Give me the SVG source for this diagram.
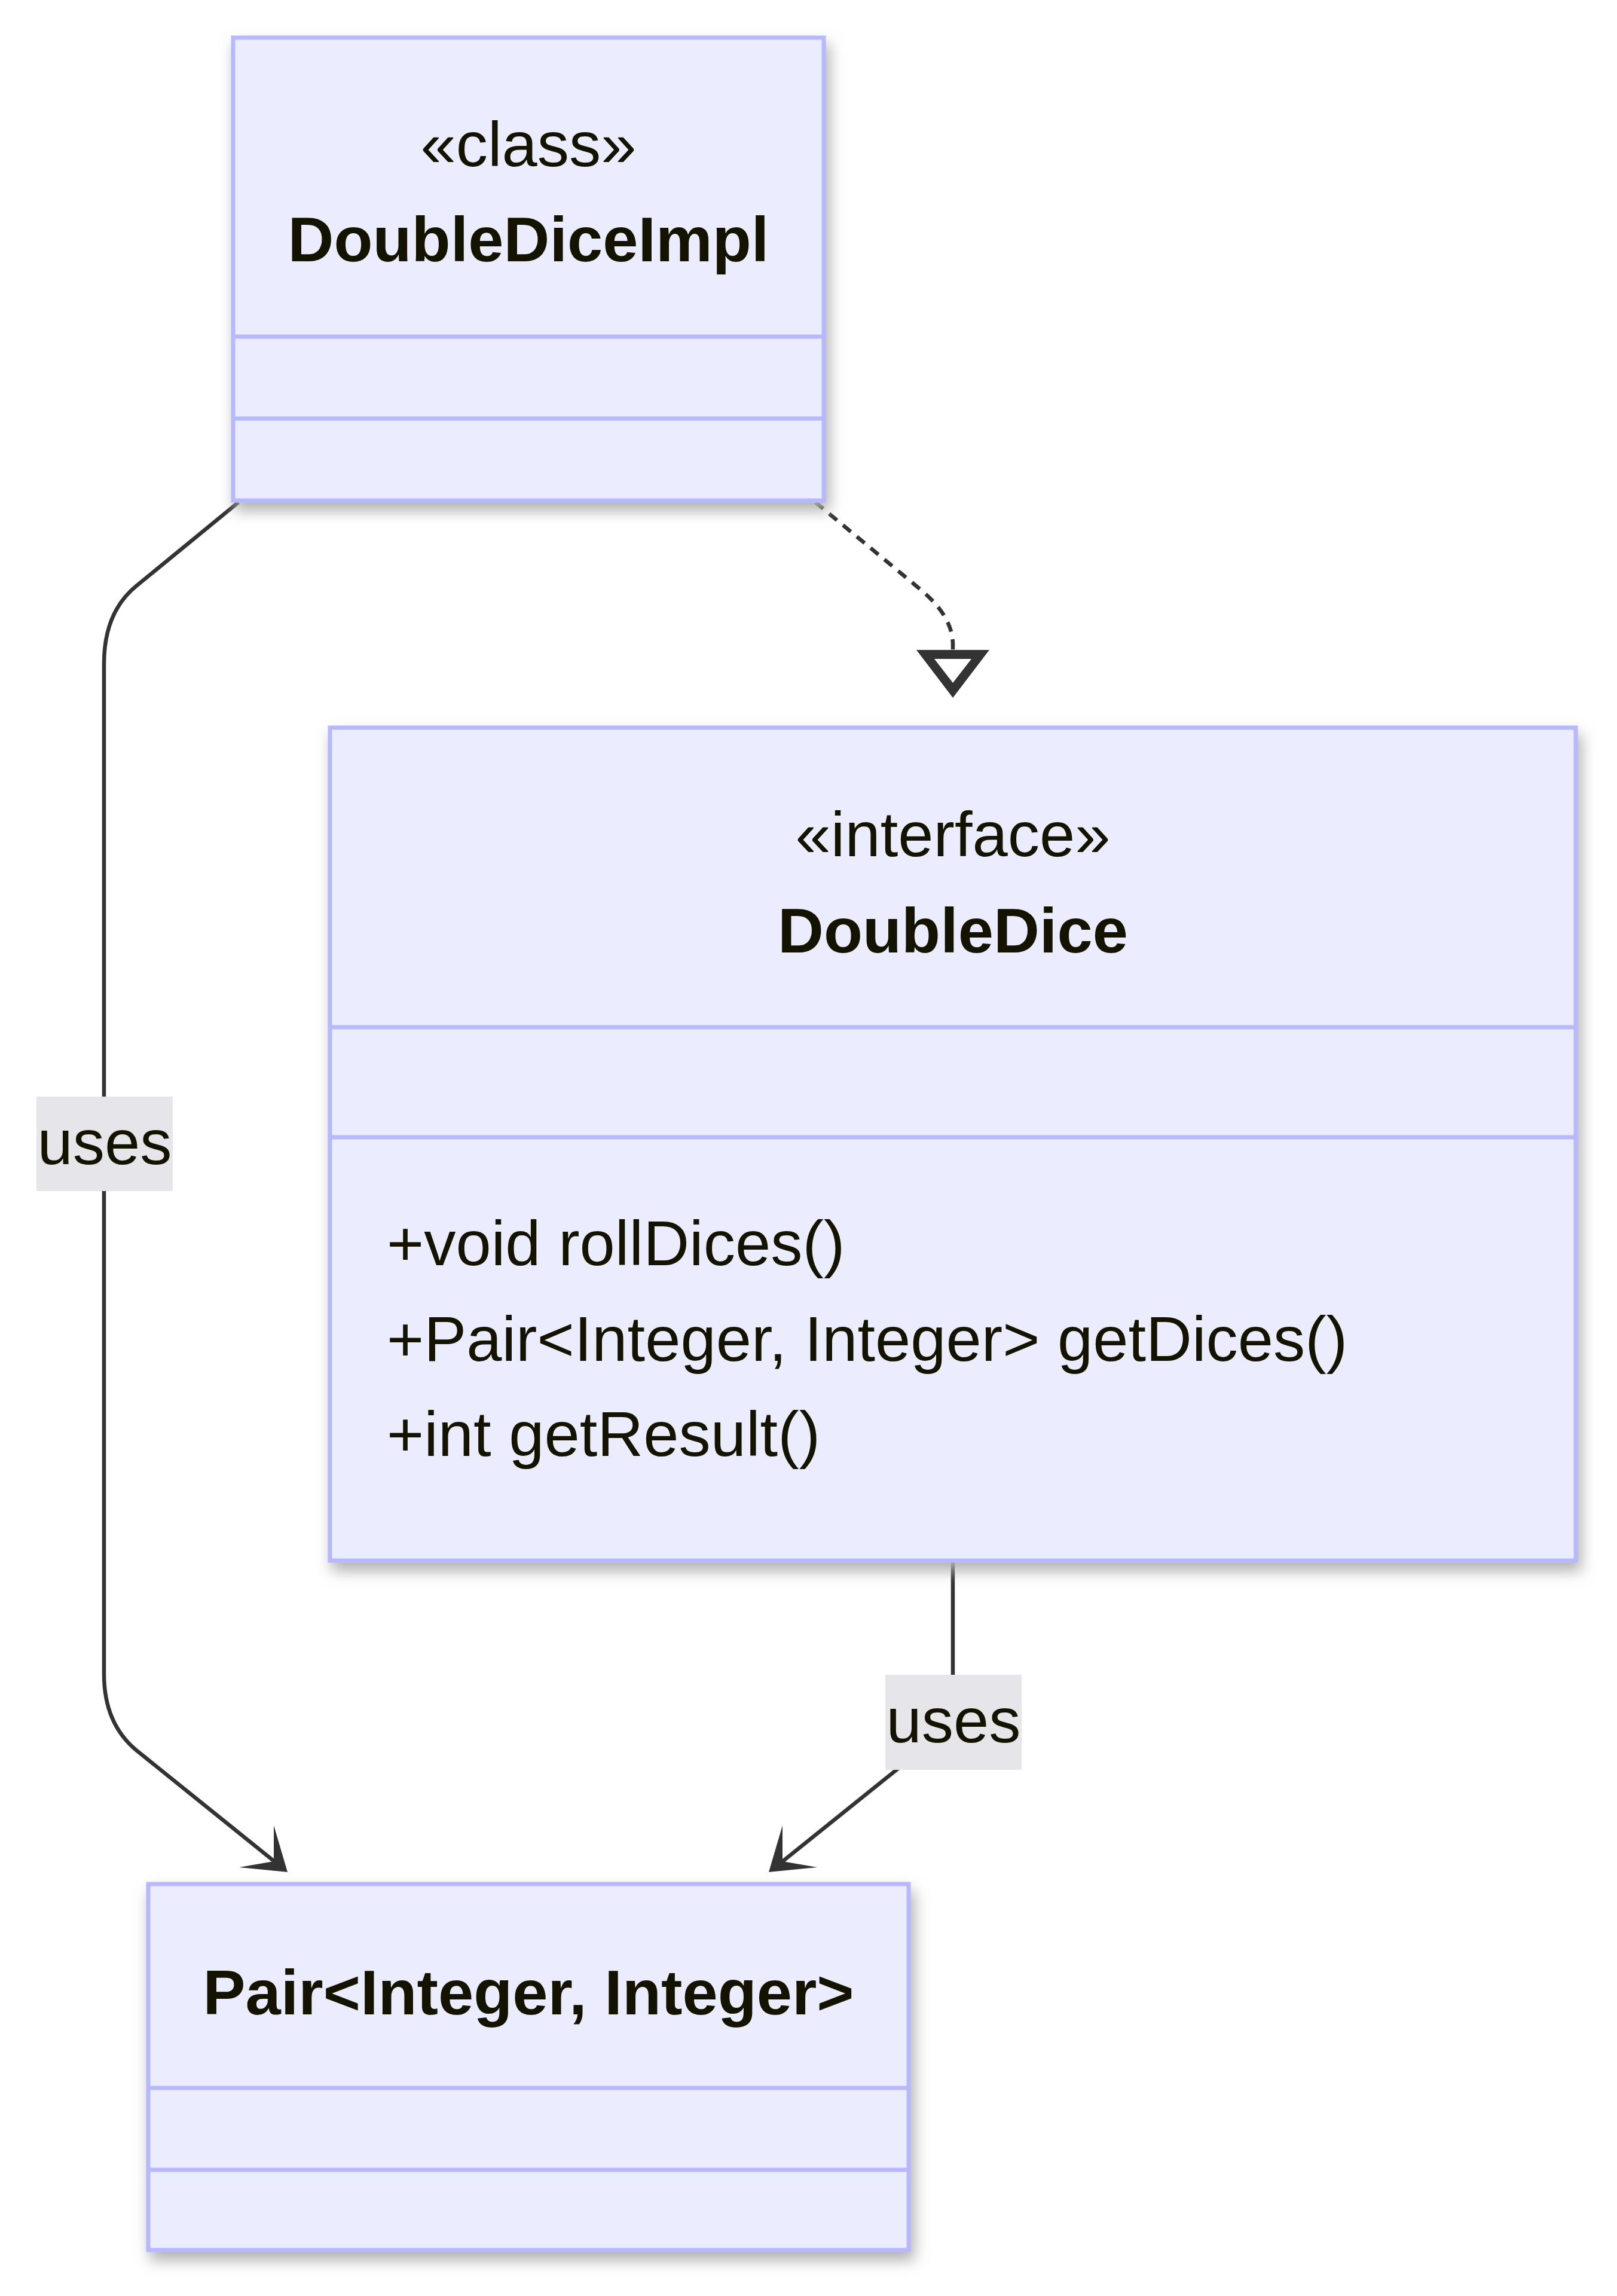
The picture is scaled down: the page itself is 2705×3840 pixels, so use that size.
<svg xmlns="http://www.w3.org/2000/svg" width="2705" height="3840" viewBox="0 0 2705 3840">
<defs>
<style>
.box{fill:#ececff;stroke:#b8b8ff;stroke-width:7;filter:url(#shadow)}
.div{stroke:#b8b8ff;stroke-width:7}
.edge{fill:none;stroke:#333333;stroke-width:6.5}
.dash{stroke-dasharray:17 13}
.t{font-family:"Liberation Sans",Arial,sans-serif;font-size:106.5px;fill:#131300}
.c{text-anchor:middle}
.b{font-weight:bold}
.lbl{fill:#e6e6ea}
.head{fill:#333333}
</style>
<filter id="shadow" x="-10%" y="-10%" width="125%" height="125%">
<feDropShadow dx="6" dy="14" stdDeviation="12" flood-color="#b0b0b0" flood-opacity="1"/>
</filter>
</defs>
<rect width="2705" height="3840" fill="#ffffff"/>
<g id="connectors">
<path class="edge" d="M 399 840 L 228 980 Q 174 1024 174 1110 L 174 2800 Q 174 2883 229 2928 L 460 3114"/>
<polygon class="head" points="481,3131 458,3053 458,3113 400,3123"/>
<path class="edge dash" d="M 1364 840 L 1540 986 Q 1594 1031 1594 1078 L 1594 1088"/>
<path class="head" fill-rule="evenodd" d="M 1533 1087 L 1655 1087 L 1594 1167 Z M 1563 1102 L 1594 1142 L 1625 1102 Z"/>
<path class="edge" d="M 1594 2613 L 1594 2840 Q 1594 2884 1557 2914 L 1308 3114"/>
<polygon class="head" points="1286,3131 1309,3053 1309,3113 1367,3123"/>
</g>
<g id="edge-labels">
<g id="label-uses-1">
<rect class="lbl" x="61" y="1834" width="228" height="158"/>
<text class="t c" x="175" y="1947">uses</text>
</g>
<g id="label-uses-2">
<rect class="lbl" x="1481" y="2801" width="228" height="159"/>
<text class="t c" x="1595" y="2914">uses</text>
</g>
</g>
<g id="DoubleDiceImpl">
<rect class="box" x="390" y="63" width="988" height="774"/>
<line class="div" x1="390" y1="563" x2="1378" y2="563"/>
<line class="div" x1="390" y1="700" x2="1378" y2="700"/>
<text class="t c" x="884" y="278">«class»</text>
<text class="t c b" x="884" y="437">DoubleDiceImpl</text>
</g>
<g id="DoubleDice">
<rect class="box" x="552" y="1217" width="2084" height="1393"/>
<line class="div" x1="552" y1="1718" x2="2636" y2="1718"/>
<line class="div" x1="552" y1="1902" x2="2636" y2="1902"/>
<text class="t c" x="1594" y="1432">«interface»</text>
<text class="t c b" x="1594" y="1593">DoubleDice</text>
<text class="t" x="647" y="2116">+void rollDices()</text>
<text class="t" x="647" y="2276">+Pair&lt;Integer, Integer&gt; getDices()</text>
<text class="t" x="647" y="2435">+int getResult()</text>
</g>
<g id="Pair">
<rect class="box" x="248" y="3151" width="1272" height="612"/>
<line class="div" x1="248" y1="3492" x2="1520" y2="3492"/>
<line class="div" x1="248" y1="3629" x2="1520" y2="3629"/>
<text class="t c b" x="884" y="3369">Pair&lt;Integer, Integer&gt;</text>
</g>
</svg>
